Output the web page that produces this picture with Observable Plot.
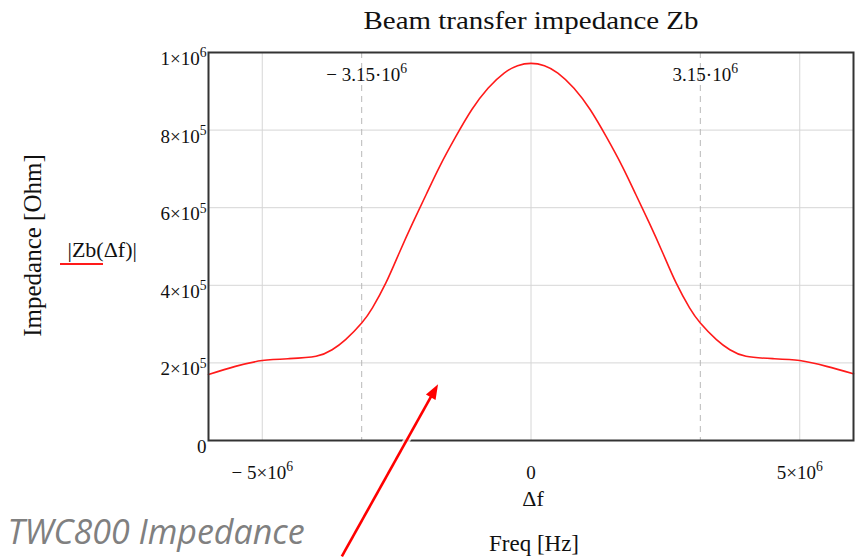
<!DOCTYPE html>
<html><head><meta charset="utf-8">
<script src="https://cdn.jsdelivr.net/npm/d3@7"></script>
<script src="https://cdn.jsdelivr.net/npm/@observablehq/plot@0.6"></script>
<style>body{margin:0;background:#fff} #chart svg{display:block}</style>
</head><body><div id="chart"></div>
<script>
// Frequency offset Δf [Hz] and |Zb(Δf)| [Ohm]
const freqHz = [-6.0e6, -5.5e6, -5.0e6, -4.5e6, -4.0e6, -3.7e6, -3.45e6, -3.15e6, -2.95e6, -2.7e6,
  -2.45e6, -2.2e6, -1.95e6, -1.7e6, -1.4e6, -1.1e6, -0.8e6, -0.5e6, -0.25e6, 0,
  0.25e6, 0.5e6, 0.8e6, 1.1e6, 1.4e6, 1.7e6, 1.95e6, 2.2e6, 2.45e6, 2.7e6,
  2.95e6, 3.15e6, 3.45e6, 3.7e6, 4.0e6, 4.5e6, 5.0e6, 5.5e6, 6.0e6];
const impedanceOhm = [1.70e5, 1.91e5, 2.06e5, 2.11e5, 2.17e5, 2.34e5, 2.60e5, 3.03e5, 3.42e5, 4.06e5,
  4.84e5, 5.61e5, 6.34e5, 7.06e5, 7.83e5, 8.53e5, 9.08e5, 9.47e5, 9.66e5, 9.72e5,
  9.66e5, 9.47e5, 9.08e5, 8.53e5, 7.83e5, 7.06e5, 6.34e5, 5.61e5, 4.84e5, 4.06e5,
  3.42e5, 3.03e5, 2.60e5, 2.34e5, 2.17e5, 2.11e5, 2.06e5, 1.91e5, 1.72e5];
const xDomain = [-6e6, 6e6];
const yDomain = [0, 1e6];
const xTicks = [-5e6, 0, 5e6];
const yTicks = [0, 2e5, 4e5, 6e5, 8e5, 1e6];
const yGrid = [2e5, 4e5, 6e5, 8e5];
const markerFreqs = [-3.15e6, 3.15e6];
const markerLabels = ["− 3.15·10^6", "3.15·10^6"];
const titleText = "Beam transfer impedance Zb";
const yLabelText = "Impedance [Ohm]";
const legendText = "|Zb(Δf)|";
const xVarText = "Δf";
const xLabelText = "Freq [Hz]";
const captionText = "TWC800 Impedance";
// annotation arrow (tail, tip) in data coordinates
const arrowTail = [-3.51e6, -3.0e5];
const arrowTip = [-1.72e6, 1.44e5];

const data = freqHz.map((f, i) => ({f, z: impedanceOhm[i]}));
function sci(v) {
  if (v === 0) return "0";
  const e = Math.floor(Math.log10(Math.abs(v)) + 1e-9);
  const m = +(Math.abs(v) / Math.pow(10, e)).toFixed(2);
  return (v < 0 ? "− " : "") + m + "×10^" + e;
}
const serif = "Liberation Serif, Times New Roman, serif";

const svg = Plot.plot({
  width: 859, height: 557,
  marginLeft: 208, marginRight: 6, marginTop: 52, marginBottom: 117,
  style: {fontFamily: serif, color: "#111", background: "#fff"},
  x: {domain: xDomain, label: null},
  y: {domain: yDomain, label: null},
  marks: [
    Plot.ruleX(xTicks, {stroke: "#d6d6d6", strokeWidth: 1}),
    Plot.ruleY(yGrid, {stroke: "#d6d6d6", strokeWidth: 1}),
    Plot.ruleX(markerFreqs, {stroke: "#b8b8b8", strokeWidth: 1, strokeDasharray: "6,5"}),
    Plot.line(data, {x: "f", y: "z", stroke: "#ff1a1a", strokeWidth: 1.6, curve: "natural"}),
    Plot.frame({stroke: "#333", strokeWidth: 2}),
    Plot.axisY(yTicks, {tickSize: 0, tickPadding: 2, tickFormat: sci, fontSize: 19, lineAnchor: "top", dy: -1, fill: "#111"}),
    Plot.axisX(xTicks, {tickSize: 0, tickPadding: 25, tickFormat: sci, fontSize: 19, fill: "#111"}),
    Plot.text(markerFreqs, {x: d => d, y: yDomain[1], text: (d, i) => markerLabels[i], lineAnchor: "bottom", dy: 28, dx: 5, fontSize: 19, fill: "#111"}),
    Plot.text([titleText], {frameAnchor: "top", lineAnchor: "bottom", dy: -24, fontSize: 26, fill: "#111", className: "fit-title"}),
    Plot.text([yLabelText], {frameAnchor: "left", textAnchor: "middle", rotate: -90, lineAnchor: "bottom", dx: -168, dy: -1, fontSize: 25, fill: "#111"}),
    Plot.text([legendText], {frameAnchor: "left", textAnchor: "start", lineAnchor: "bottom", dx: -141, dy: 10, fontSize: 22, fill: "#111"}),
    Plot.text([xVarText], {frameAnchor: "bottom", lineAnchor: "bottom", dy: 65, dx: 2, fontSize: 22, fill: "#111"}),
    Plot.text([xLabelText], {frameAnchor: "bottom", lineAnchor: "bottom", dy: 110, dx: 3, fontSize: 23, fill: "#111"}),
    Plot.text([captionText], {frameAnchor: "bottom-left", textAnchor: "start", lineAnchor: "bottom", dx: -201, dy: 103, fontSize: 34, fontStyle: "italic", fontFamily: "Open Sans, Noto Sans, sans-serif", fill: "#808080"})
  ]
});

// superscripts
d3.select(svg).selectAll("text").each(function () {
  const t = this.textContent;
  if (!t.includes("^")) return;
  const [base, exp] = t.split("^");
  const el = d3.select(this);
  el.selectAll("*").remove();
  el.text(null);
  el.append("tspan").text(base);
  el.append("tspan").attr("dy", "-0.55em").attr("font-size", "0.72em").text(exp);
});
// stretch the title to the reference width
d3.select(svg).selectAll("g.fit-title text").attr("textLength", 335).attr("lengthAdjust", "spacingAndGlyphs");

// legend swatch
const root = d3.select(svg);
root.append("line").attr("x1", 60).attr("x2", 103).attr("y1", 264).attr("y2", 264)
  .attr("stroke", "#ff1a1a").attr("stroke-width", 2);

// annotation arrow through the plot scales
const sx = svg.scale("x"), sy = svg.scale("y");
const x1 = sx.apply(arrowTail[0]), y1 = sy.apply(arrowTail[1]);
const x2 = sx.apply(arrowTip[0]), y2 = sy.apply(arrowTip[1]);
const len = Math.hypot(x2 - x1, y2 - y1), ux = (x2 - x1) / len, uy = (y2 - y1) / len;
const hl = 15, hw = 5.5;
const bx = x2 - hl * ux, by = y2 - hl * uy;
const g = root.append("g");
g.append("line").attr("x1", x1).attr("y1", y1).attr("x2", bx).attr("y2", by)
  .attr("stroke", "#fff").attr("stroke-opacity", 0.8).attr("stroke-width", 7);
g.append("line").attr("x1", x1).attr("y1", y1).attr("x2", bx + 2 * ux).attr("y2", by + 2 * uy)
  .attr("stroke", "#ff0000").attr("stroke-width", 2.6);
g.append("path").attr("d", `M${x2},${y2}L${bx - hw * uy},${by + hw * ux}L${bx + hw * uy},${by - hw * ux}Z`)
  .attr("fill", "#ff0000");

document.getElementById("chart").append(svg);
</script>
</body></html>
